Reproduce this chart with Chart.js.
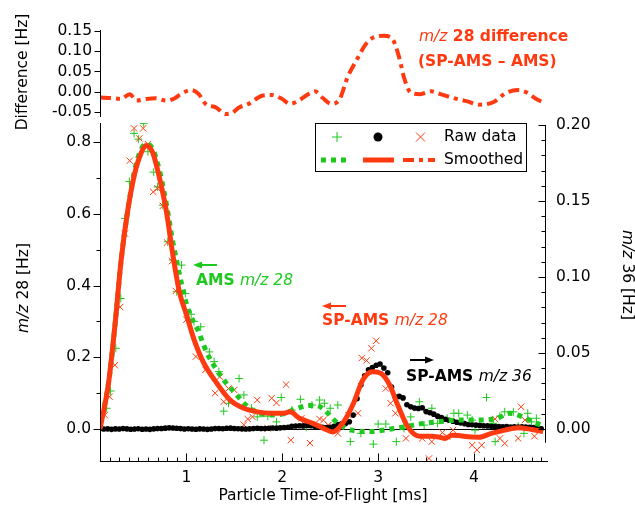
<!DOCTYPE html>
<html><head><meta charset="utf-8">
<script src="https://cdn.jsdelivr.net/npm/chart.js@4.4.1/dist/chart.umd.min.js"></script>
<style>
html,body{margin:0;padding:0;background:#fff;}
#wrap{position:relative;width:635px;height:510px;overflow:hidden;}
.layer{position:absolute;left:0;top:0;}
</style></head><body>
<div id="wrap">
<canvas id="cMain" class="layer" width="635" height="510"></canvas>
<canvas id="cTop" class="layer" width="635" height="510"></canvas>
</div>
<script>
// ---------- DATA ----------
const timeTicks = [1, 2, 3, 4];
const m28Ticks = [0, 0.2, 0.4, 0.6, 0.8];
const m36Ticks = [0, 0.05, 0.10, 0.15, 0.20];
const diffTicks = [-0.05, 0, 0.05, 0.10, 0.15];

// AMS m/z 28 raw (green +)
const amsRawX = [0.10,0.17,0.21,0.265,0.317,0.36,0.406,0.455,0.50,0.556,0.60,0.66,0.70,0.755,0.806,0.858,0.90,0.95,0.99,1.05,1.08,1.15,1.24,1.29,1.34,1.39,1.44,1.55,1.60,1.68,1.74,1.81,1.85,1.94,1.99,2.10,2.19,2.25,2.31,2.39,2.44,2.50,2.58,2.71,2.82,2.95,3.00,3.08,3.19,3.27,3.34,3.43,3.48,3.56,3.62,3.72,3.79,3.84,3.93,3.98,4.01,4.13,4.20,4.22,4.27,4.32,4.41,4.46,4.52,4.56,4.60,4.65,4.68];
const amsRawY = [0.034,0.058,0.106,0.225,0.364,0.587,0.69,0.824,0.808,0.852,0.773,0.716,0.675,0.624,0.522,0.471,0.383,0.457,0.378,0.32,0.30,0.285,0.215,0.188,0.16,0.05,0.072,0.141,0.095,0.058,0.034,-0.031,0.036,0.02,0.088,0.053,0.083,0.005,0.067,0.081,0.072,0.058,0.067,-0.035,-0.012,-0.042,0.014,0.014,-0.035,0.002,0.034,0.076,0.011,0.058,0.016,0.03,0.044,0.044,0.039,0.025,-0.003,0.088,0.016,-0.035,0.036,0.048,0.048,0.008,-0.012,0.044,0.02,0.03,0.006];

// SP-AMS m/z 28 raw (red x)
const spRawX = [0.15,0.20,0.255,0.31,0.36,0.41,0.455,0.51,0.55,0.60,0.655,0.70,0.755,0.80,0.85,0.89,1.00,1.10,1.20,1.30,1.35,1.39,1.44,1.50,1.60,1.64,1.69,1.74,1.85,1.89,1.94,2.04,2.09,2.20,2.24,2.29,2.39,2.43,2.48,2.58,2.69,2.79,2.83,2.88,2.93,2.98,3.08,3.13,3.18,3.29,3.46,3.53,3.56,3.67,3.72,3.78,3.98,4.03,4.08,4.22,4.27,4.32,4.46,4.49,4.53,4.63];
const spRawY = [0.039,0.09,0.178,0.34,0.545,0.748,0.838,0.81,0.838,0.794,0.661,0.671,0.622,0.52,0.468,0.385,0.305,0.202,0.165,0.10,0.146,0.076,0.113,0.109,0.012,0.028,0.034,0.081,0.002,0.086,0.073,0.124,-0.031,0.03,0.011,-0.039,0.028,0.025,0.011,-0.012,0.039,0.044,0.198,0.191,0.225,0.246,0.113,0.072,0.044,-0.026,-0.026,-0.082,-0.035,-0.01,-0.021,-0.003,-0.045,-0.058,-0.045,0.028,-0.026,-0.04,-0.026,0.062,0.025,-0.02];

// SP-AMS m/z 36 raw (black dots, right axis)
const m36X = [0.10,0.14,0.18,0.22,0.26,0.30,0.34,0.38,0.42,0.46,0.50,0.54,0.58,0.62,0.66,0.70,0.74,0.78,0.82,0.86,0.90,0.94,0.98,1.02,1.06,1.10,1.14,1.18,1.22,1.26,1.30,1.34,1.38,1.42,1.46,1.50,1.54,1.58,1.62,1.66,1.70,1.74,1.78,1.82,1.86,1.90,1.94,1.98,2.02,2.06,2.10,2.14,2.18,2.22,2.26,2.30,2.34,2.38,2.42,2.46,2.50,2.54,2.58,2.62,2.66,2.70,2.74,2.78,2.82,2.86,2.90,2.94,2.98,3.02,3.06,3.10,3.14,3.18,3.22,3.26,3.30,3.34,3.38,3.42,3.46,3.50,3.54,3.58,3.62,3.66,3.70,3.74,3.78,3.82,3.86,3.90,3.94,3.98,4.02,4.06,4.10,4.14,4.18,4.22,4.26,4.30,4.34,4.38,4.42,4.46,4.50,4.54,4.58,4.62,4.66,4.70];
const m36Y = [0.0002,0.0000,0.0001,-0.0002,0.0001,0.0000,0.0003,0.0001,-0.0001,0.0000,0.0002,-0.0001,0.0000,-0.0002,0.0001,0.0003,0.0004,0.0006,0.0008,0.0007,0.0005,0.0003,0.0000,0.0002,0.0000,-0.0001,0.0001,0.0000,-0.0002,0.0000,0.0003,0.0004,0.0002,0.0005,0.0006,0.0004,0.0002,0.0001,0.0000,0.0001,0.0003,0.0005,0.0004,0.0003,0.0005,0.0007,0.0006,0.0008,0.0010,0.0012,0.0018,0.0020,0.0022,0.0021,0.0024,0.0022,0.0019,0.0016,0.0012,0.0010,0.0012,0.0018,0.0030,0.0034,0.0036,0.0048,0.0092,0.0200,0.0290,0.0350,0.0390,0.0405,0.0420,0.0428,0.0402,0.0370,0.0277,0.0210,0.0215,0.0205,0.0160,0.0146,0.0138,0.0135,0.0140,0.0115,0.0107,0.0098,0.0085,0.0075,0.0065,0.0058,0.0052,0.0045,0.0040,0.0036,0.0030,0.0028,0.0026,0.0024,0.0022,0.0021,0.0018,0.0016,0.0017,0.0015,0.0016,0.0014,0.0015,0.0013,0.0015,0.0014,0.0012,0.0010,0.0006,0.0002];

// Smoothed AMS m/z 28 (green dotted)
const amsSmX = [0.10,0.19,0.26,0.32,0.39,0.46,0.53,0.58,0.65,0.72,0.79,0.86,0.93,0.98,1.04,1.12,1.21,1.30,1.39,1.51,1.62,1.72,1.86,2.00,2.14,2.28,2.36,2.44,2.58,2.72,2.93,3.10,3.27,3.48,3.62,3.82,4.03,4.24,4.37,4.51,4.65,4.72];
const amsSmY = [0.01,0.13,0.30,0.47,0.61,0.72,0.78,0.795,0.78,0.72,0.63,0.52,0.43,0.37,0.318,0.276,0.215,0.172,0.137,0.10,0.067,0.048,0.039,0.042,0.056,0.066,0.066,0.053,0.016,-0.003,-0.007,-0.001,0.006,0.016,0.02,0.025,0.025,0.03,0.044,0.034,0.016,0.01];

// Smoothed SP-AMS m/z 28 (red solid)
const spSmX = [0.10,0.19,0.26,0.32,0.39,0.46,0.53,0.58,0.65,0.72,0.79,0.86,0.93,1.00,1.08,1.18,1.32,1.46,1.60,1.74,1.88,2.01,2.08,2.18,2.32,2.43,2.53,2.63,2.74,2.84,2.94,3.03,3.12,3.20,3.31,3.43,3.56,3.63,3.70,3.77,3.84,3.91,4.05,4.18,4.32,4.46,4.60,4.72];
const spSmY = [0.00,0.13,0.30,0.47,0.61,0.71,0.77,0.79,0.77,0.70,0.61,0.485,0.38,0.32,0.25,0.185,0.127,0.08,0.058,0.048,0.044,0.044,0.048,0.03,0.016,0.002,-0.008,0.016,0.07,0.137,0.16,0.155,0.123,0.07,0.006,-0.02,-0.02,-0.022,-0.026,-0.017,-0.018,-0.021,-0.023,-0.012,-0.003,0.004,-0.001,-0.007];

// m/z 28 difference (SP-AMS - AMS), top panel
const diffX = [0.10,0.23,0.32,0.41,0.48,0.58,0.68,0.79,0.88,0.94,1.05,1.13,1.20,1.31,1.41,1.48,1.55,1.65,1.79,1.89,2.00,2.08,2.17,2.27,2.34,2.42,2.51,2.60,2.68,2.78,2.87,2.95,3.06,3.15,3.22,3.27,3.34,3.44,3.55,3.65,3.79,3.93,4.06,4.20,4.34,4.46,4.55,4.65,4.72];
const diffY = [-0.014,-0.016,-0.018,-0.006,-0.022,-0.018,-0.016,-0.022,-0.016,-0.006,0.004,-0.006,-0.03,-0.039,-0.055,-0.052,-0.039,-0.03,-0.01,-0.008,-0.018,-0.03,-0.022,-0.006,0.001,-0.015,-0.03,-0.018,0.035,0.08,0.117,0.134,0.138,0.13,0.084,0.035,-0.002,-0.006,0.001,-0.006,-0.016,-0.024,-0.032,-0.026,-0.002,0.004,-0.002,-0.018,-0.026];

// ---------- STYLE ----------
const RED = '#ff3a10';
const GREEN = '#1ec81e';
const FF = '"DejaVu Sans", sans-serif';
const FS = 15.5;
const X_MIN = 0.1, X_MAX = 4.74;

const pts = (xs, ys) => xs.map((x, i) => ({x: x, y: ys[i]}));

function richWidth(ctx, segs) {
  let w = 0;
  for (const s of segs) { ctx.font = s.f; w += ctx.measureText(s.t).width; }
  return w;
}
function drawRich(ctx, x, y, segs, color, align) {
  ctx.save();
  ctx.fillStyle = color;
  ctx.textBaseline = 'middle';
  ctx.textAlign = 'left';
  let cx = x;
  if (align === 'center') cx = x - richWidth(ctx, segs) / 2;
  for (const s of segs) { ctx.font = s.f; ctx.fillText(s.t, cx, y); cx += ctx.measureText(s.t).width; }
  ctx.restore();
}
function drawRotRich(ctx, x, y, angle, segs, color) {
  ctx.save();
  ctx.translate(x, y);
  ctx.rotate(angle);
  drawRich(ctx, 0, 0, segs, color, 'center');
  ctx.restore();
}
function arrow(ctx, x1, y, x2, color) {
  ctx.save();
  ctx.strokeStyle = color; ctx.fillStyle = color; ctx.lineWidth = 2;
  const dir = Math.sign(x2 - x1);
  ctx.beginPath(); ctx.moveTo(x1, y); ctx.lineTo(x2 - dir * 6, y); ctx.stroke();
  ctx.beginPath(); ctx.moveTo(x2, y); ctx.lineTo(x2 - dir * 9, y - 3.5); ctx.lineTo(x2 - dir * 9, y + 3.5); ctx.closePath(); ctx.fill();
  ctx.restore();
}
const fN = FS + 'px ' + FF, fB = 'bold ' + FS + 'px ' + FF, fI = 'italic ' + FS + 'px ' + FF;

// ---------- MAIN PLOT ----------
const mainPlugin = {
  id: 'mainPlugin',
  beforeDatasetsDraw(chart) {
    const {ctx, chartArea: a, scales} = chart;
    const y0 = Math.round(scales.y28.getPixelForValue(0)) + 0.5;
    ctx.save(); ctx.strokeStyle = '#000'; ctx.lineWidth = 1;
    ctx.beginPath(); ctx.moveTo(a.left, y0); ctx.lineTo(a.right, y0); ctx.stroke();
    ctx.restore();
  },
  afterDraw(chart) {
    const {ctx, chartArea: a, scales} = chart;
    const sx = scales.x, sl = scales.y28, sr = scales.y36;
    ctx.save();
    ctx.strokeStyle = '#000'; ctx.lineWidth = 1;
    const L = a.left + 0.5, B = a.bottom + 0.5, R = a.right + 0.5;
    ctx.beginPath();
    ctx.moveTo(L, a.top); ctx.lineTo(L, a.bottom + 1);
    ctx.moveTo(a.left, B); ctx.lineTo(a.right + 3, B);
    ctx.moveTo(R, sr.getPixelForValue(0.2)); ctx.lineTo(R, sr.getPixelForValue(-0.009));
    ctx.stroke();
    ctx.beginPath();
    for (let i = 1; i <= 47; i++) {
      const v = i / 10;
      if (v < X_MIN - 1e-9 || v > X_MAX + 1e-9) continue;
      const px = Math.round(sx.getPixelForValue(v)) + 0.5;
      const len = (i % 10 === 0) ? 8 : 4;
      ctx.moveTo(px, B); ctx.lineTo(px, B - len);
    }
    for (let i = 0; i <= 8; i++) {
      const v = i / 10;
      const py = Math.round(sl.getPixelForValue(v)) + 0.5;
      const len = (i % 2 === 0) ? 7 : 4;
      ctx.moveTo(L, py); ctx.lineTo(L - len, py);
    }
    for (let i = 0; i <= 20; i++) {
      const v = i / 100;
      const py = Math.round(sr.getPixelForValue(v)) + 0.5;
      const len = (i % 5 === 0) ? 7 : 4;
      ctx.moveTo(R, py); ctx.lineTo(R - len, py);
    }
    ctx.stroke();

    // legend
    const lx = a.right - 230, ly = a.top;
    ctx.strokeRect(lx + 0.5, ly + 0.5, 211, 48);
    const r1 = ly + 14, r2 = ly + 37;
    ctx.strokeStyle = GREEN; ctx.lineWidth = 1;
    ctx.beginPath(); ctx.moveTo(lx + 22, r1 - 5); ctx.lineTo(lx + 22, r1 + 5); ctx.moveTo(lx + 17, r1); ctx.lineTo(lx + 27, r1); ctx.stroke();
    ctx.fillStyle = '#000';
    ctx.beginPath(); ctx.arc(lx + 63, r1, 4.5, 0, Math.PI * 2); ctx.fill();
    ctx.strokeStyle = RED;
    ctx.beginPath(); ctx.moveTo(lx + 101, r1 - 4.5); ctx.lineTo(lx + 110, r1 + 4.5); ctx.moveTo(lx + 110, r1 - 4.5); ctx.lineTo(lx + 101, r1 + 4.5); ctx.stroke();
    ctx.lineWidth = 5;
    ctx.strokeStyle = GREEN; ctx.setLineDash([5, 5]);
    ctx.beginPath(); ctx.moveTo(lx + 6, r2); ctx.lineTo(lx + 35, r2); ctx.stroke();
    ctx.setLineDash([]); ctx.strokeStyle = RED;
    ctx.beginPath(); ctx.moveTo(lx + 48, r2); ctx.lineTo(lx + 79, r2); ctx.stroke();
    ctx.lineWidth = 4; ctx.setLineDash([11, 5, 4, 5]);
    ctx.beginPath(); ctx.moveTo(lx + 88, r2); ctx.lineTo(lx + 120, r2); ctx.stroke();
    ctx.setLineDash([]);
    drawRich(ctx, lx + 129, r1, [{t: 'Raw data', f: fN}], '#000');
    drawRich(ctx, lx + 129, r2, [{t: 'Smoothed', f: fN}], '#000');

    // annotations
    arrow(ctx, 217, 265, 193, GREEN);
    drawRich(ctx, 196, 281, [{t: 'AMS ', f: fB}, {t: 'm/z 28', f: fI}], GREEN);
    arrow(ctx, 346, 306, 322, RED);
    drawRich(ctx, 322, 321, [{t: 'SP-AMS ', f: fB}, {t: 'm/z 28', f: fI}], RED);
    arrow(ctx, 410, 360, 434, '#000');
    drawRich(ctx, 406, 377, [{t: 'SP-AMS ', f: fB}, {t: 'm/z 36', f: fI}], '#000');
    drawRich(ctx, 419, 37, [{t: 'm/z', f: fI}, {t: ' 28 difference', f: fB}], RED);
    drawRich(ctx, 418, 62, [{t: '(SP-AMS \u2013 AMS)', f: fB}], RED);

    // axis titles
    drawRotRich(ctx, 23, 72, -Math.PI / 2, [{t: 'Difference [Hz]', f: fN}], '#000');
    drawRotRich(ctx, 24, 288, -Math.PI / 2, [{t: 'm/z', f: fI}, {t: ' 28 [Hz]', f: fN}], '#000');
    drawRotRich(ctx, 627, 275, Math.PI / 2, [{t: 'm/z', f: fI}, {t: ' 36 [Hz]', f: fN}], '#000');
    drawRich(ctx, 323, 496, [{t: 'Particle Time-of-Flight [ms]', f: fN}], '#000', 'center');
    ctx.restore();
  }
};

const tickFont = {family: FF, size: FS};

new Chart(document.getElementById('cMain'), {
  type: 'scatter',
  data: {
    datasets: [
      {data: pts(spSmX, spSmY), yAxisID: 'y28', showLine: true, borderColor: RED, borderWidth: 5, pointRadius: 0, cubicInterpolationMode: 'monotone', order: 1},
      {data: pts(amsSmX, amsSmY), yAxisID: 'y28', showLine: true, borderColor: GREEN, borderWidth: 5, borderDash: [5, 5], pointRadius: 0, cubicInterpolationMode: 'monotone', order: 2},
      {data: pts(m36X, m36Y), yAxisID: 'y36', pointStyle: 'circle', pointRadius: 2.8, backgroundColor: '#000', borderWidth: 0, order: 3},
      {data: pts(spRawX, spRawY), yAxisID: 'y28', pointStyle: 'crossRot', pointRadius: 4.5, borderColor: RED, borderWidth: 1, order: 4},
      {data: pts(amsRawX, amsRawY), yAxisID: 'y28', pointStyle: 'cross', pointRadius: 4, borderColor: GREEN, borderWidth: 1, order: 5}
    ]
  },
  options: {
    responsive: false, animation: false,
    layout: {padding: {top: 123, left: 0, right: 0, bottom: 0}},
    plugins: {legend: {display: false}, tooltip: {enabled: false}},
    scales: {
      x: {type: 'linear', position: 'bottom', min: X_MIN, max: X_MAX,
        afterFit(s) { s.height = 49; },
        afterBuildTicks(s) { s.ticks = timeTicks.map(v => ({value: v})); },
        grid: {display: false, drawTicks: false}, border: {display: false},
        ticks: {font: tickFont, color: '#000', padding: 8, maxRotation: 0, callback: v => String(v)}},
      y28: {type: 'linear', position: 'left', min: -0.089, max: 0.853,
        afterFit(s) { s.width = 100; },
        afterBuildTicks(s) { s.ticks = m28Ticks.map(v => ({value: v})); },
        grid: {display: false, drawTicks: false}, border: {display: false},
        ticks: {font: tickFont, color: '#000', padding: 9, callback: v => v.toFixed(1)}},
      y36: {type: 'linear', position: 'right', min: -0.021, max: 0.2013,
        afterFit(s) { s.width = 90; },
        afterBuildTicks(s) { s.ticks = m36Ticks.map(v => ({value: v})); },
        grid: {display: false, drawTicks: false}, border: {display: false},
        ticks: {font: tickFont, color: '#000', padding: 11, callback: v => v.toFixed(2)}}
    }
  },
  plugins: [mainPlugin]
});

// ---------- TOP PANEL ----------
const topPlugin = {
  id: 'topPlugin',
  afterDraw(chart) {
    const {ctx, chartArea: a, scales} = chart;
    const sy = scales.y;
    const L = a.left + 0.5;
    ctx.save(); ctx.strokeStyle = '#000'; ctx.lineWidth = 1;
    ctx.beginPath();
    ctx.moveTo(L, a.top); ctx.lineTo(L, a.bottom);
    for (const v of diffTicks) {
      const py = Math.round(sy.getPixelForValue(v)) + 0.5;
      ctx.moveTo(L, py); ctx.lineTo(L - 6, py);
    }
    ctx.stroke(); ctx.restore();
  }
};

new Chart(document.getElementById('cTop'), {
  type: 'scatter',
  data: {datasets: [
    {data: pts(diffX, diffY), showLine: true, borderColor: RED, borderWidth: 4, borderDash: [11, 5, 4, 5], pointRadius: 0, cubicInterpolationMode: 'monotone'}
  ]},
  options: {
    responsive: false, animation: false,
    layout: {padding: {top: 30, bottom: 393, right: 90, left: 0}},
    plugins: {legend: {display: false}, tooltip: {enabled: false}},
    scales: {
      x: {type: 'linear', min: X_MIN, max: X_MAX, display: false},
      y: {type: 'linear', position: 'left', min: -0.0625, max: 0.1525,
        afterFit(s) { s.width = 100; },
        afterBuildTicks(s) { s.ticks = diffTicks.map(v => ({value: v})); },
        grid: {display: false, drawTicks: false}, border: {display: false},
        ticks: {font: tickFont, color: '#000', padding: 8, callback: v => v.toFixed(2)}}
    }
  },
  plugins: [topPlugin]
});
</script>
</body></html>
